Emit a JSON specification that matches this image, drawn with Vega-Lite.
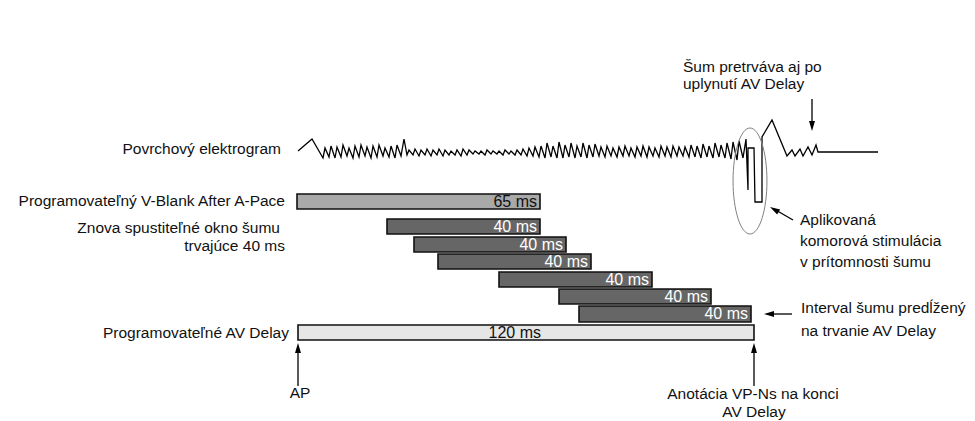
{
  "$schema": "https://vega.github.io/schema/vega-lite/v6.json",
  "width": 975,
  "height": 421,
  "autosize": {"type": "fit", "contains": "padding"},
  "padding": 0,
  "background": "white",
  "config": {"view": {"stroke": null}},
  "datasets": {
    "bars": [
      {"kind": "vblank", "x": 297, "x2": 540, "y": 194, "y2": 209, "label": "65 ms", "lx": 537, "ly": 202},
      {"kind": "noise", "x": 387, "x2": 540, "y": 219, "y2": 234, "label": "40 ms", "lx": 537, "ly": 227},
      {"kind": "noise", "x": 414, "x2": 566, "y": 237, "y2": 252, "label": "40 ms", "lx": 563, "ly": 245},
      {"kind": "noise", "x": 438, "x2": 591, "y": 254, "y2": 269, "label": "40 ms", "lx": 588, "ly": 262},
      {"kind": "noise", "x": 499, "x2": 652, "y": 272, "y2": 287, "label": "40 ms", "lx": 649, "ly": 280},
      {"kind": "noise", "x": 559, "x2": 711, "y": 289, "y2": 304, "label": "40 ms", "lx": 708, "ly": 297},
      {"kind": "noise", "x": 579, "x2": 751, "y": 306, "y2": 322, "label": "40 ms", "lx": 748, "ly": 314},
      {"kind": "av", "x": 298, "x2": 754, "y": 325, "y2": 340, "label": "120 ms", "lx": 541, "ly": 333}
    ],
    "ecg": [
      {"o":0,"x":298,"y":151},{"o":1,"x":312,"y":139},{"o":2,"x":323,"y":158},{"o":3,"x":325,"y":148},
      {"o":4,"x":329,"y":157},{"o":5,"x":331,"y":146},{"o":6,"x":335,"y":158},{"o":7,"x":337,"y":147},
      {"o":8,"x":341,"y":157},{"o":9,"x":343,"y":145},{"o":10,"x":347,"y":156},{"o":11,"x":349,"y":148},
      {"o":12,"x":353,"y":158},{"o":13,"x":355,"y":146},{"o":14,"x":359,"y":157},{"o":15,"x":361,"y":145},
      {"o":16,"x":365,"y":156},{"o":17,"x":367,"y":147},{"o":18,"x":371,"y":158},{"o":19,"x":373,"y":146},
      {"o":20,"x":377,"y":157},{"o":21,"x":379,"y":145},{"o":22,"x":383,"y":156},{"o":23,"x":385,"y":148},
      {"o":24,"x":389,"y":157},{"o":25,"x":391,"y":146},{"o":26,"x":395,"y":158},{"o":27,"x":397,"y":145},
      {"o":28,"x":401,"y":156},{"o":29,"x":404,"y":139},{"o":30,"x":407,"y":155},{"o":31,"x":409,"y":150},
      {"o":32,"x":413,"y":155},{"o":33,"x":415,"y":149},{"o":34,"x":419,"y":156},{"o":35,"x":421,"y":150},
      {"o":36,"x":425,"y":155},{"o":37,"x":427,"y":149},{"o":38,"x":431,"y":156},{"o":39,"x":433,"y":150},
      {"o":40,"x":437,"y":155},{"o":41,"x":439,"y":149},{"o":42,"x":443,"y":156},{"o":43,"x":445,"y":150},
      {"o":44,"x":449,"y":155},{"o":45,"x":451,"y":151},{"o":46,"x":455,"y":155},{"o":47,"x":457,"y":150},
      {"o":48,"x":461,"y":156},{"o":49,"x":463,"y":149},{"o":50,"x":467,"y":155},{"o":51,"x":469,"y":150},
      {"o":52,"x":473,"y":154},{"o":53,"x":475,"y":151},{"o":54,"x":479,"y":154},{"o":55,"x":481,"y":151},
      {"o":56,"x":485,"y":155},{"o":57,"x":487,"y":150},{"o":58,"x":491,"y":154},{"o":59,"x":493,"y":151},
      {"o":60,"x":497,"y":154},{"o":61,"x":499,"y":151},{"o":62,"x":503,"y":155},{"o":63,"x":505,"y":150},
      {"o":64,"x":509,"y":154},{"o":65,"x":511,"y":151},{"o":66,"x":515,"y":155},{"o":67,"x":517,"y":150},
      {"o":68,"x":521,"y":155},{"o":69,"x":523,"y":149},{"o":70,"x":527,"y":156},{"o":71,"x":529,"y":148},
      {"o":72,"x":533,"y":156},{"o":73,"x":535,"y":147},{"o":74,"x":539,"y":157},{"o":75,"x":541,"y":146},
      {"o":76,"x":545,"y":158},{"o":77,"x":547,"y":143},{"o":78,"x":551,"y":157},{"o":79,"x":553,"y":146},
      {"o":80,"x":557,"y":158},{"o":81,"x":559,"y":142},{"o":82,"x":563,"y":158},{"o":83,"x":565,"y":145},
      {"o":84,"x":569,"y":157},{"o":85,"x":571,"y":143},{"o":86,"x":575,"y":158},{"o":87,"x":577,"y":146},
      {"o":88,"x":581,"y":157},{"o":89,"x":583,"y":143},{"o":90,"x":587,"y":158},{"o":91,"x":589,"y":145},
      {"o":92,"x":593,"y":157},{"o":93,"x":595,"y":144},{"o":94,"x":599,"y":156},{"o":95,"x":601,"y":147},
      {"o":96,"x":605,"y":157},{"o":97,"x":607,"y":146},{"o":98,"x":611,"y":156},{"o":99,"x":613,"y":148},
      {"o":100,"x":617,"y":157},{"o":101,"x":619,"y":147},{"o":102,"x":623,"y":156},{"o":103,"x":625,"y":146},
      {"o":104,"x":629,"y":156},{"o":105,"x":631,"y":148},{"o":106,"x":635,"y":157},{"o":107,"x":637,"y":147},
      {"o":108,"x":641,"y":156},{"o":109,"x":643,"y":146},{"o":110,"x":647,"y":157},{"o":111,"x":649,"y":147},
      {"o":112,"x":653,"y":156},{"o":113,"x":655,"y":148},{"o":114,"x":659,"y":157},{"o":115,"x":661,"y":146},
      {"o":116,"x":665,"y":156},{"o":117,"x":667,"y":147},{"o":118,"x":671,"y":157},{"o":119,"x":673,"y":146},
      {"o":120,"x":677,"y":156},{"o":121,"x":679,"y":147},{"o":122,"x":683,"y":156},{"o":123,"x":685,"y":147},
      {"o":124,"x":689,"y":157},{"o":125,"x":691,"y":145},{"o":126,"x":695,"y":157},{"o":127,"x":697,"y":146},
      {"o":128,"x":701,"y":158},{"o":129,"x":703,"y":144},{"o":130,"x":707,"y":157},{"o":131,"x":709,"y":146},
      {"o":132,"x":713,"y":158},{"o":133,"x":715,"y":143},{"o":134,"x":719,"y":157},{"o":135,"x":721,"y":145},
      {"o":136,"x":725,"y":158},{"o":137,"x":727,"y":143},{"o":138,"x":731,"y":159},{"o":139,"x":733,"y":142},
      {"o":140,"x":737,"y":160},{"o":141,"x":739,"y":141},{"o":142,"x":743,"y":158},{"o":143,"x":746,"y":139},
      {"o":144,"x":748,"y":190},{"o":145,"x":748,"y":148},{"o":146,"x":754,"y":148},{"o":147,"x":755,"y":202},
      {"o":148,"x":762,"y":202},{"o":149,"x":762,"y":137},{"o":150,"x":772,"y":120},{"o":151,"x":787,"y":156},
      {"o":152,"x":792,"y":150},{"o":153,"x":795,"y":156},{"o":154,"x":800,"y":149},{"o":155,"x":803,"y":156},
      {"o":156,"x":808,"y":147},{"o":157,"x":812,"y":155},{"o":158,"x":816,"y":145},{"o":159,"x":818,"y":152},
      {"o":160,"x":878,"y":152}
    ],
    "arrows": [
      {"name": "sum", "x": 812, "y": 99, "x2": 812, "y2": 128, "dir": "down"},
      {"name": "aplik", "x": 793, "y": 220, "x2": 774, "y2": 209, "dir": "upleft"},
      {"name": "interval", "x": 792, "y": 314, "x2": 768, "y2": 314, "dir": "left"},
      {"name": "ap", "x": 298, "y": 386, "x2": 298, "y2": 348, "dir": "up"},
      {"name": "vpns", "x": 754, "y": 386, "x2": 754, "y2": 348, "dir": "up"}
    ],
    "heads": [
      {"dir": "down", "x": 812, "y": 131},
      {"dir": "upleft", "x": 770, "y": 207},
      {"dir": "left", "x": 764, "y": 314},
      {"dir": "up", "x": 298, "y": 343},
      {"dir": "up", "x": 754, "y": 343}
    ],
    "ellipse": [{"x": 750, "y": 181}],
    "leftText": [
      {"t": "Povrchový elektrogram", "x": 281, "y": 154},
      {"t": "Programovateľný V-Blank After A-Pace", "x": 285, "y": 206},
      {"t": "Znova spustiteľné okno šumu", "x": 280, "y": 233},
      {"t": "trvajúce 40 ms", "x": 285, "y": 251},
      {"t": "Programovateľné AV Delay", "x": 289, "y": 338}
    ],
    "rightText": [
      {"t": "Šum pretrváva aj po", "x": 683, "y": 72},
      {"t": "uplynutí AV Delay", "x": 683, "y": 89},
      {"t": "Aplikovaná", "x": 800, "y": 225},
      {"t": "komorová stimulácia", "x": 800, "y": 246},
      {"t": "v prítomnosti šumu", "x": 800, "y": 267},
      {"t": "Interval šumu predĺžený", "x": 801, "y": 313},
      {"t": "na trvanie AV Delay", "x": 801, "y": 336}
    ],
    "bottomText": [
      {"t": "AP", "x": 300, "y": 398},
      {"t": "Anotácia VP-Ns na konci", "x": 753, "y": 399},
      {"t": "AV Delay", "x": 754, "y": 417}
    ]
  },
  "encoding": {
    "x": {"field": "x", "type": "quantitative", "scale": {"domain": [0, 975], "nice": false, "zero": false}, "axis": null},
    "y": {"field": "y", "type": "quantitative", "scale": {"domain": [0, 421], "nice": false, "zero": false, "reverse": true}, "axis": null}
  },
  "layer": [
    {
      "data": {"name": "bars"},
      "mark": {"type": "rect", "stroke": "#111111", "strokeWidth": 1.6},
      "encoding": {
        "x2": {"field": "x2"},
        "y2": {"field": "y2"},
        "fill": {"field": "kind", "type": "nominal", "scale": {"domain": ["vblank", "noise", "av"], "range": ["#a9a9a9", "#666666", "#e6e6e6"]}, "legend": null}
      }
    },
    {
      "data": {"name": "bars"},
      "mark": {"type": "text", "align": "right", "baseline": "middle", "font": "Liberation Sans", "fontSize": 16},
      "encoding": {
        "x": {"field": "lx", "type": "quantitative"},
        "y": {"field": "ly", "type": "quantitative"},
        "text": {"field": "label"},
        "color": {"field": "kind", "type": "nominal", "scale": {"domain": ["vblank", "noise", "av"], "range": ["#111111", "#ffffff", "#111111"]}, "legend": null}
      }
    },
    {
      "data": {"name": "ecg"},
      "mark": {"type": "line", "color": "#000000", "strokeWidth": 1.3, "strokeJoin": "miter"},
      "encoding": {"order": {"field": "o", "type": "quantitative"}}
    },
    {
      "data": {"name": "ellipse"},
      "mark": {"type": "point", "shape": "M-0.32,0A0.32,1 0 1,0 0.32,0A0.32,1 0 1,0 -0.32,0Z", "size": 11236, "filled": false, "stroke": "#808080", "strokeWidth": 1, "opacity": 1}
    },
    {
      "data": {"name": "arrows"},
      "mark": {"type": "rule", "color": "#000000", "strokeWidth": 1.3},
      "encoding": {"x2": {"field": "x2"}, "y2": {"field": "y2"}}
    },
    {
      "data": {"name": "heads"},
      "transform": [{"filter": "datum.dir === 'up'"}],
      "mark": {"type": "point", "shape": "M0,0L0.6,2L-0.6,2Z", "size": 100, "filled": true, "color": "#000000", "opacity": 1, "angle": 0}
    },
    {
      "data": {"name": "heads"},
      "transform": [{"filter": "datum.dir === 'down'"}],
      "mark": {"type": "point", "shape": "M0,0L0.6,2L-0.6,2Z", "size": 100, "filled": true, "color": "#000000", "opacity": 1, "angle": 180}
    },
    {
      "data": {"name": "heads"},
      "transform": [{"filter": "datum.dir === 'left'"}],
      "mark": {"type": "point", "shape": "M0,0L0.6,2L-0.6,2Z", "size": 100, "filled": true, "color": "#000000", "opacity": 1, "angle": 270}
    },
    {
      "data": {"name": "heads"},
      "transform": [{"filter": "datum.dir === 'upleft'"}],
      "mark": {"type": "point", "shape": "M0,0L0.6,2L-0.6,2Z", "size": 100, "filled": true, "color": "#000000", "opacity": 1, "angle": 300}
    },
    {
      "data": {"name": "leftText"},
      "mark": {"type": "text", "align": "right", "baseline": "alphabetic", "font": "Liberation Sans", "fontSize": 15.5, "color": "#111111"},
      "encoding": {"text": {"field": "t"}}
    },
    {
      "data": {"name": "rightText"},
      "mark": {"type": "text", "align": "left", "baseline": "alphabetic", "font": "Liberation Sans", "fontSize": 15.5, "color": "#111111"},
      "encoding": {"text": {"field": "t"}}
    },
    {
      "data": {"name": "bottomText"},
      "mark": {"type": "text", "align": "center", "baseline": "alphabetic", "font": "Liberation Sans", "fontSize": 15.5, "color": "#111111"},
      "encoding": {"text": {"field": "t"}}
    }
  ]
}
